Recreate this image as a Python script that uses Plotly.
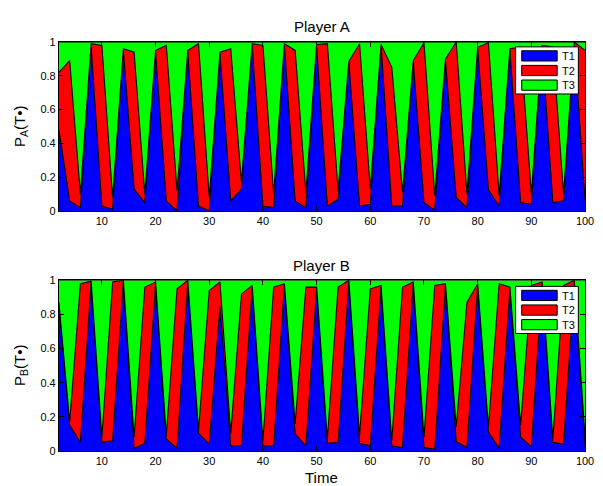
import plotly.graph_objects as go

# ---------------- data ----------------
time = [2, 4, 6, 8, 10, 12, 14, 16, 18, 20, 22, 24, 26, 28, 30, 32, 34, 36, 38, 40,
        42, 44, 46, 48, 50, 52, 54, 56, 58, 60, 62, 64, 66, 68, 70, 72, 74, 76, 78, 80,
        82, 84, 86, 88, 90, 92, 94, 96, 98, 100]

series_names = ["T1", "T2", "T3"]

# Player A
a_T1 = [0.48, 0.06, 0.02, 0.97, 0.03, 0.01, 0.95, 0.13, 0.05, 0.94,
        0.06, 0.00, 0.94, 0.03, 0.00, 0.93, 0.06, 0.13, 0.98, 0.03,
        0.02, 0.98, 0.06, 0.02, 0.97, 0.03, 0.07, 0.88, 0.03, 0.04,
        0.98, 0.03, 0.03, 0.88, 0.05, 0.005, 0.89, 0.08, 0.02, 0.96,
        0.125, 0.03, 0.95, 0.05, 0.04, 0.97, 0.05, 0.06, 0.99, 0.06]
a_T2 = [0.34, 0.83, 0.08, 0.02, 0.95, 0.07, 0.01, 0.81, 0.05, 0.01,
        0.92, 0.12, 0.01, 0.96, 0.08, 0.01, 0.90, 0.04, 0.01, 0.95,
        0.08, 0.01, 0.89, 0.09, 0.015, 0.96, 0.05, 0.005, 0.96, 0.09,
        0.005, 0.82, 0.08, 0.01, 0.945, 0.085, 0.01, 0.92, 0.08, 0.01,
        0.87, 0.06, 0.01, 0.92, 0.06, 0.01, 0.92, 0.04, 0.01, 0.89]
a_T3 = [0.18, 0.11, 0.90, 0.01, 0.02, 0.92, 0.04, 0.06, 0.90, 0.05,
        0.02, 0.88, 0.05, 0.01, 0.92, 0.06, 0.04, 0.83, 0.01, 0.02,
        0.90, 0.01, 0.05, 0.89, 0.015, 0.01, 0.88, 0.115, 0.01, 0.87,
        0.015, 0.15, 0.89, 0.11, 0.005, 0.91, 0.10, 0.00, 0.90, 0.03,
        0.005, 0.91, 0.04, 0.03, 0.90, 0.02, 0.03, 0.90, 0.00, 0.05]

# Player B
b_T1 = [0.86, 0.15, 0.05, 0.99, 0.05, 0.06, 0.99, 0.015, 0.045, 0.98,
        0.07, 0.015, 0.99, 0.105, 0.04, 0.85, 0.03, 0.03, 0.96, 0.03,
        0.03, 0.97, 0.10, 0.03, 0.95, 0.045, 0.05, 0.99, 0.045, 0.03,
        0.96, 0.03, 0.02, 0.98, 0.02, 0.01, 0.97, 0.055, 0.02, 0.97,
        0.11, 0.015, 0.95, 0.08, 0.025, 0.98, 0.05, 0.04, 0.99, 0.03]
b_T2 = [0.01, 0.02, 0.93, 0.005, 0.03, 0.93, 0.01, 0.065, 0.915, 0.01,
        0.02, 0.935, 0.01, 0.015, 0.90, 0.14, 0.07, 0.89, 0.01, 0.03,
        0.93, 0.01, 0.06, 0.93, 0.01, 0.025, 0.91, 0.01, 0.045, 0.92,
        0.01, 0.03, 0.94, 0.01, 0.06, 0.96, 0.01, 0.085, 0.85, 0.01,
        0.03, 0.965, 0.01, 0.07, 0.945, 0.01, 0.02, 0.93, 0.01, 0.05]
b_T3 = [0.13, 0.83, 0.02, 0.005, 0.92, 0.01, 0.00, 0.92, 0.04, 0.01,
        0.91, 0.05, 0.00, 0.88, 0.06, 0.01, 0.90, 0.08, 0.03, 0.94,
        0.04, 0.02, 0.84, 0.04, 0.04, 0.93, 0.04, 0.00, 0.91, 0.05,
        0.03, 0.94, 0.04, 0.01, 0.92, 0.03, 0.02, 0.86, 0.13, 0.02,
        0.86, 0.02, 0.04, 0.85, 0.03, 0.01, 0.93, 0.03, 0.00, 0.92]

x_ticks = [10, 20, 30, 40, 50, 60, 70, 80, 90, 100]
y_ticks = [0, 0.2, 0.4, 0.6, 0.8, 1]
y_tick_text = ["0", "0.2", "0.4", "0.6", "0.8", "1"]
fill_colors = ["#0000FF", "#FF0000", "#00FF00"]

# ---------------- figure ----------------
W, H = 603, 486
OFF = 8          # default page (body) margin in front of the figure
FAM = "Liberation Sans, Arial, Helvetica, sans-serif"
fig = go.Figure()

def px(v):      # window pixel (from left) -> paper
    return (v - OFF) / W

def py(v):      # window pixel (from top) -> paper
    return 1 - (v - OFF) / H

def add_area(values_list, xaxis, yaxis, group):
    for name, vals, col in zip(series_names, values_list, fill_colors):
        fig.add_trace(go.Scatter(
            x=time, y=vals, name=name, mode="lines",
            stackgroup=group, fillcolor=col,
            line=dict(color="black", width=1.1),
            xaxis=xaxis, yaxis=yaxis, showlegend=False,
        ))

add_area([a_T1, a_T2, a_T3], "x", "y", "A")
add_area([b_T1, b_T2, b_T3], "x2", "y2", "B")

x_left, x_right = px(59.7), px(593.8)
x_mid = (x_left + x_right) / 2
top_dom = [py(210), py(36.7)]
bot_dom = [py(456), py(281)]

tickfont = dict(family=FAM, size=11, color="black")
axis_common = dict(showline=True, linecolor="black", linewidth=1, mirror="ticks",
                   ticks="inside", ticklen=5, tickcolor="black", showgrid=False,
                   zeroline=False, tickfont=tickfont)

label_font = dict(family=FAM, size=15, color="black")

annotations = [
    dict(text="Player A", x=x_mid, y=py(21), xref="paper", yref="paper",
         showarrow=False, font=label_font, xanchor="center", yanchor="middle"),
    dict(text="Player B", x=x_mid, y=py(266), xref="paper", yref="paper",
         showarrow=False, font=label_font, xanchor="center", yanchor="middle"),
    dict(text="Time", x=x_mid, y=py(483), xref="paper", yref="paper",
         showarrow=False, font=label_font, xanchor="center", yanchor="middle"),
    dict(text="P<sub>A</sub>(T•)", x=px(20), y=py(123), xref="paper", yref="paper",
         showarrow=False, font=label_font, textangle=-90, xanchor="center", yanchor="middle"),
    dict(text="P<sub>B</sub>(T•)", x=px(20), y=py(368), xref="paper", yref="paper",
         showarrow=False, font=label_font, textangle=-90, xanchor="center", yanchor="middle"),
]
shapes = []

# custom MATLAB-style legends (box + outlined swatches + labels)
for box_top in (41.7, 287.3):
    shapes.append(dict(type="rect", xref="paper", yref="paper",
                       x0=px(523.3), x1=px(587.0), y0=py(box_top + 48.3), y1=py(box_top),
                       fillcolor="white", line=dict(color="black", width=1), layer="above"))
    for i, (name, col) in enumerate(zip(series_names, fill_colors)):
        s_top = box_top + 4.0 + 15.0 * i
        shapes.append(dict(type="rect", xref="paper", yref="paper",
                           x0=px(529.5), x1=px(565.5), y0=py(s_top + 10.5), y1=py(s_top),
                           fillcolor=col, line=dict(color="black", width=1), layer="above"))
        annotations.append(dict(text=name, x=px(568.5), y=py(s_top + 5.5), xref="paper", yref="paper",
                                showarrow=False, font=dict(family=FAM, size=11, color="black"),
                                xanchor="left", yanchor="middle"))

fig.update_layout(
    width=W, height=H,
    margin=dict(l=0, r=0, t=0, b=0),
    paper_bgcolor="white", plot_bgcolor="white",
    font=dict(family=FAM, size=11, color="black"),
    showlegend=False,
    xaxis=dict(domain=[x_left, x_right], range=[2, 100], tickvals=x_ticks, anchor="y", **axis_common),
    yaxis=dict(domain=top_dom, range=[0, 1], tickvals=y_ticks, ticktext=y_tick_text, anchor="x",
               **axis_common),
    xaxis2=dict(domain=[x_left, x_right], range=[2, 100], tickvals=x_ticks, anchor="y2", **axis_common),
    yaxis2=dict(domain=bot_dom, range=[0, 1], tickvals=y_ticks, ticktext=y_tick_text, anchor="x2",
                **axis_common),
    annotations=annotations,
    shapes=shapes,
)

fig.write_html("out.html", config={"displayModeBar": False})
